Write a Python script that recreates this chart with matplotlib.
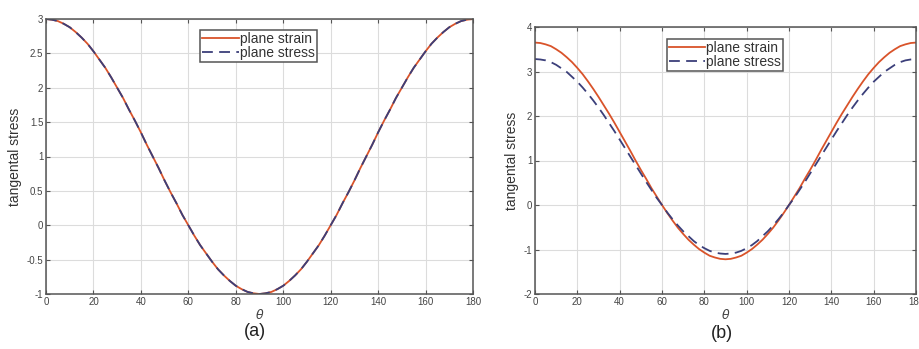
import matplotlib
matplotlib.use("Agg")
import matplotlib.pyplot as plt

plt.rcParams['font.family'] = ['Liberation Sans', 'DejaVu Sans']

# angle around the hole, degrees (2.5 deg steps, 0..180)
theta = [i * 2.5 for i in range(73)]

# (a) both cases coincide
strain_a = [3.00, 2.99, 2.97, 2.93, 2.88, 2.81, 2.73, 2.64, 2.53, 2.41, 2.29, 2.15,
            2.00, 1.85, 1.68, 1.52, 1.35, 1.17, 1.00, 0.83, 0.65, 0.48, 0.32, 0.15,
            0.00, -0.15, -0.29, -0.41, -0.53, -0.64, -0.73, -0.81, -0.88, -0.93, -0.97, -0.99,
            -1.00,
            -0.99, -0.97, -0.93, -0.88, -0.81, -0.73, -0.64, -0.53, -0.41, -0.29, -0.15, 0.00,
            0.15, 0.32, 0.48, 0.65, 0.83, 1.00, 1.17, 1.35, 1.52, 1.68, 1.85, 2.00,
            2.15, 2.29, 2.41, 2.53, 2.64, 2.73, 2.81, 2.88, 2.93, 2.97, 2.99, 3.00]
stress_a = [3.00, 2.99, 2.97, 2.93, 2.88, 2.81, 2.73, 2.64, 2.53, 2.41, 2.29, 2.15,
            2.00, 1.85, 1.68, 1.52, 1.35, 1.17, 1.00, 0.83, 0.65, 0.48, 0.32, 0.15,
            0.00, -0.15, -0.29, -0.41, -0.53, -0.64, -0.73, -0.81, -0.88, -0.93, -0.97, -0.99,
            -1.00,
            -0.99, -0.97, -0.93, -0.88, -0.81, -0.73, -0.64, -0.53, -0.41, -0.29, -0.15, 0.00,
            0.15, 0.32, 0.48, 0.65, 0.83, 1.00, 1.17, 1.35, 1.52, 1.68, 1.85, 2.00,
            2.15, 2.29, 2.41, 2.53, 2.64, 2.73, 2.81, 2.88, 2.93, 2.97, 2.99, 3.00]

# (b) plane strain vs plane stress
strain_b = [3.65, 3.64, 3.61, 3.57, 3.50, 3.42, 3.32, 3.21, 3.08, 2.94, 2.78, 2.61,
            2.43, 2.24, 2.05, 1.85, 1.64, 1.43, 1.22, 1.00, 0.79, 0.59, 0.38, 0.19,
            0.00, -0.18, -0.35, -0.51, -0.65, -0.78, -0.89, -0.99, -1.07, -1.14, -1.18, -1.21,
            -1.22,
            -1.21, -1.18, -1.14, -1.07, -0.99, -0.89, -0.78, -0.65, -0.51, -0.35, -0.18, 0.00,
            0.19, 0.38, 0.59, 0.79, 1.00, 1.22, 1.43, 1.64, 1.85, 2.05, 2.24, 2.43,
            2.61, 2.78, 2.94, 3.08, 3.21, 3.32, 3.42, 3.50, 3.57, 3.61, 3.64, 3.65]
stress_b = [3.28, 3.27, 3.25, 3.21, 3.15, 3.07, 2.99, 2.88, 2.77, 2.64, 2.50, 2.35,
            2.19, 2.02, 1.84, 1.66, 1.47, 1.28, 1.09, 0.90, 0.71, 0.52, 0.34, 0.16,
            0.00, -0.17, -0.32, -0.46, -0.59, -0.70, -0.81, -0.90, -0.97, -1.03, -1.07, -1.09,
            -1.10,
            -1.09, -1.07, -1.03, -0.97, -0.90, -0.81, -0.70, -0.59, -0.46, -0.32, -0.17, 0.00,
            0.16, 0.34, 0.52, 0.71, 0.90, 1.09, 1.28, 1.47, 1.66, 1.84, 2.02, 2.19,
            2.35, 2.50, 2.64, 2.77, 2.88, 2.99, 3.07, 3.15, 3.21, 3.25, 3.27, 3.28]

xticks = list(range(0, 181, 20))
yticks_a = [-1, -0.5, 0, 0.5, 1, 1.5, 2, 2.5, 3]
yticks_b = [-2, -1, 0, 1, 2, 3, 4]

RED = '#d9532a'
BLUE = '#3b3f7a'
EDGE = '#555555'


def style_axes(ax, ylim, yticks):
    ax.set_xlim(0, 180)
    ax.set_ylim(*ylim)
    ax.set_xticks(xticks)
    ax.set_yticks(yticks)
    ax.set_yticklabels(['%g' % v for v in yticks])
    ax.grid(True, color='#dcdcdc', linewidth=0.8)
    ax.set_axisbelow(True)
    ax.tick_params(direction='in', top=True, right=True, length=3, width=0.8,
                   labelsize=7, colors=EDGE, labelcolor='#444444', pad=2)
    for s in ax.spines.values():
        s.set_color(EDGE)
        s.set_linewidth(1.1)
    ax.set_xlabel(r'$\theta$', fontsize=9, color='#444444', labelpad=1)
    ax.set_ylabel('tangental stress', fontsize=10, color='#333333', labelpad=3)


def draw(ax, s1, s2, anchor):
    ax.plot(theta, s1, color=RED, linewidth=1.3, label='plane strain')
    ax.plot(theta, s2, color=BLUE, linewidth=1.3, linestyle=(0, (6, 3.5)), label='plane stress')
    leg = ax.legend(loc='upper center', bbox_to_anchor=anchor, fontsize=10,
                    handlelength=2.6, handletextpad=0.1, labelspacing=0.0,
                    borderpad=0.15, borderaxespad=0, fancybox=False, framealpha=1)
    leg.get_frame().set_edgecolor(EDGE)
    leg.get_frame().set_linewidth(1.1)
    for t in leg.get_texts():
        t.set_color('#333333')


fig = plt.figure(figsize=(9.2, 3.49), dpi=100)
ax1 = fig.add_axes([46 / 920, 1 - 294 / 349, 427 / 920, 275 / 349])
ax2 = fig.add_axes([535 / 920, 1 - 294 / 349, 381 / 920, 267 / 349])

draw(ax1, strain_a, stress_a, (0.498, 0.96))
style_axes(ax1, (-1, 3), yticks_a)
draw(ax2, strain_b, stress_b, (0.499, 0.955))
style_axes(ax2, (-2, 4), yticks_b)

fig.text(255 / 920, 1 - 331 / 349, '(a)', ha='center', va='center', fontsize=13, color='#222222')
fig.text(722 / 920, 1 - 334 / 349, '(b)', ha='center', va='center', fontsize=13, color='#222222')

fig.savefig('out.png', dpi=100)
